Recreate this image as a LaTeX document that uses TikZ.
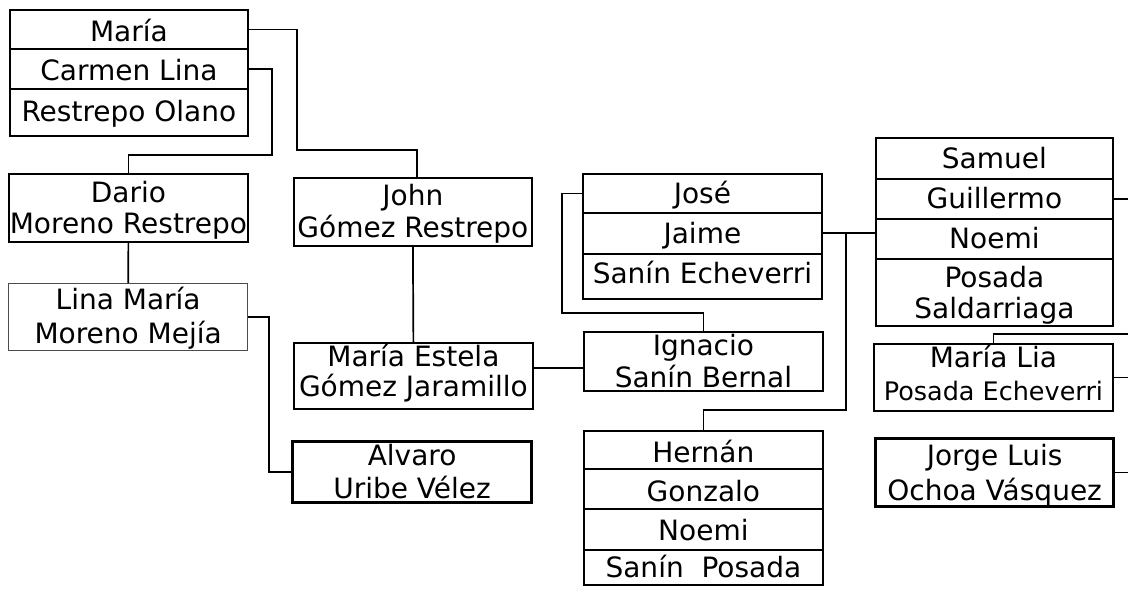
\documentclass[tikz,border=0pt]{standalone}
\usepackage{fontspec}
\setmainfont{DejaVu Sans}
\usetikzlibrary{calc}
\tikzset{
  box/.style={draw, line width=1.8pt, inner sep=0pt, anchor=north west},
  grp/.style={draw, line width=2.4pt},
  heavy/.style={draw, line width=3.2pt},
  light/.style={draw=black!70, line width=1.3pt},
  txt/.style={font=\fontsize{28}{31}\selectfont, anchor=base, inner sep=0pt},
  small/.style={font=\fontsize{25.5}{30}\selectfont},
  link/.style={line width=1.7pt},
}
\newcommand\mybox[6][]{\node[box,#1,minimum width={#4-#2},minimum height={#5-#3}] (#6) at (#2,#3) {};}
\newcommand\mytext[4][]{\node[txt,#1] at ($(#2.north)+(0,#3)$) {#4};}
\begin{document}
\begin{tikzpicture}[x=1pt,y=-1pt]
\useasboundingbox[fill=white] (0,0) rectangle (1128,589);
\coordinate (E) at (1128,0);
% left family
\mybox{9}{9}{247}{48}{maria}
\mybox{9}{48}{247}{88}{carmen}
\mybox{9}{88}{247}{135}{restrepo}
\mytext{maria}{32}{María}
\mytext{carmen}{32}{Carmen Lina}
\mytext{restrepo}{33}{Restrepo Olano}

\mybox{8}{173}{247}{241}{dario}
\mytext{dario}{29}{Dario}
\mytext{dario}{60}{Moreno Restrepo}

\mybox[light]{8}{283}{247}{350}{lina}
\mytext{lina}{26}{Lina María}
\mytext{lina}{60}{Moreno Mejía}

\mybox{293}{177}{531}{245}{john}
\mytext{john}{28}{John}
\mytext{john}{60}{Gómez Restrepo}

\mybox{293}{342}{532}{408}{estela}
\mytext{estela}{24}{María Estela}
\mytext{estela}{54}{Gómez Jaramillo}

\mybox[heavy]{291}{440}{530}{501}{alvaro}
\mytext{alvaro}{25}{Alvaro}
\mytext{alvaro}{58}{Uribe Vélez}

% middle family
\mybox{582}{173}{821}{212}{jose}
\mybox{582}{212}{821}{253}{jaime}
\mybox{582}{253}{821}{298}{sanine}
\mytext{jose}{30}{José}
\mytext{jaime}{31}{Jaime}
\mytext{sanine}{30}{Sanín Echeverri}

\mybox{583}{331}{822}{390}{ignacio}
\mytext{ignacio}{24}{Ignacio}
\mytext{ignacio}{56}{Sanín Bernal}

\mybox{583}{430}{822}{468}{hernan}
\mybox[grp]{583}{468}{822}{584}{hgroup}
\mybox{583}{468}{822}{508}{gonzalo}
\mybox{583}{508}{822}{549}{noemia}
\mybox{583}{549}{822}{584}{sanip}
\mytext{hernan}{32}{Hernán}
\mytext{gonzalo}{33}{Gonzalo}
\mytext{noemia}{32}{Noemi}
\mytext{sanip}{28}{Sanín\ \ Posada}

% right family
\mybox{875}{137}{1112}{178}{samuel}
\mybox[grp]{875}{178}{1112}{325}{sgroup}
\mybox{875}{178}{1112}{218}{guillermo}
\mybox{875}{218}{1112}{258}{noemib}
\mybox{875}{258}{1112}{325}{posada}
\mytext{samuel}{31}{Samuel}
\mytext{guillermo}{30}{Guillermo}
\mytext{noemib}{30}{Noemi}
\mytext{posada}{29}{Posada}
\mytext{posada}{60}{Saldarriaga}

\mybox{873}{343}{1112}{410}{lia}
\mytext{lia}{24}{María Lia}
\mytext[small]{lia}{57}{Posada Echeverri}

\mybox[heavy]{874}{437}{1112}{505}{jorge}
\mytext{jorge}{28}{Jorge Luis}
\mytext{jorge}{63}{Ochoa Vásquez}

% connectors
\coordinate (c1) at (297,150);
\coordinate (c2) at (272,155);
\coordinate (c3) at (269,400);
\coordinate (c4) at (562,313);
\coordinate (c5) at (846,233);
\coordinate (c6) at (846,410);
\coordinate (m1) at (557,368);
\coordinate (e2) at (1128,334);
\draw[link] (maria.east) -| (c1) -| ($(john.north)+(4,0)$);
\draw[link] (carmen.east) -| (c2) -| (dario.north);
\draw[link] (dario.south) -- (lina.north);
\draw[link] (lina.east) -| (c3) |- (alvaro.west);
\draw[link] (john.south) -- (estela.north);
\draw[link] (m1 -| estela.east) -- (m1 -| ignacio.west);
\draw[link] (jose.west) -| (c4) -| (ignacio.north);
\draw[link] (c5 -| jaime.east) -- (c5 -| noemib.west);
\draw[link] (c5) -- (c6) -| (hernan.north);
\draw[link] (guillermo.east) -- (guillermo.east -| E);
\draw[link] (lia.north) |- (e2);
\draw[link] (lia.east) -- (lia.east -| E);
\draw[link] (jorge.east) -- (jorge.east -| E);
\end{tikzpicture}
\end{document}
